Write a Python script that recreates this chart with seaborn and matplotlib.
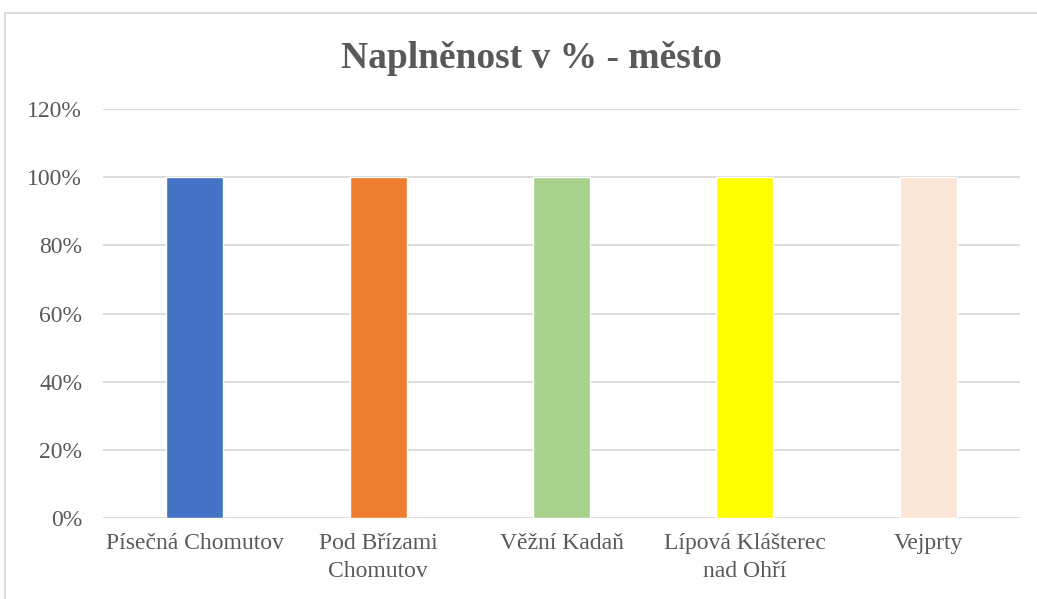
import matplotlib
matplotlib.use('Agg')
import pandas as pd
import matplotlib.pyplot as plt
import seaborn as sns
from matplotlib.patches import Rectangle
from matplotlib.ticker import PercentFormatter

# Data
mista = ['Písečná Chomutov', 'Pod Břízami\nChomutov', 'Věžní Kadaň',
         'Lípová Klášterec\nnad Ohří', 'Vejprty']
naplnenost = [100, 100, 100, 100, 100]
barvy = ['#4472C4', '#ED7D31', '#A9D18E', '#FFFF00', '#FBE5D6']

df = pd.DataFrame({'Místo': mista, 'Naplněnost': naplnenost})

sns.set_style('white')
plt.rcParams['font.family'] = ['Liberation Serif', 'DejaVu Serif']

fig = plt.figure(figsize=(10.37, 5.99), dpi=100)
ax = fig.add_axes([0.0993, 0.1352, 0.8843, 0.6828])

sns.barplot(data=df, x='Místo', y='Naplněnost', hue='Místo', palette=barvy,
            width=0.31, legend=False, ax=ax, saturation=1)

ax.set_ylim(0, 120)
ax.set_xlim(-0.5, 4.5)
ax.set_yticks(range(0, 121, 20))
ax.yaxis.set_major_formatter(PercentFormatter(decimals=0))
ax.grid(axis='y', color='#D9D9D9', linewidth=1.3)
ax.set_axisbelow(True)
for s in ax.spines.values():
    s.set_visible(False)
ax.set_xlabel('')
ax.set_ylabel('')
ax.tick_params(axis='both', length=0, colors='#595959', labelsize=17)
ax.tick_params(axis='y', pad=15)
ax.tick_params(axis='x', pad=11)
for t in ax.get_xticklabels():
    t.set_linespacing(1.4)

fig.text(0.512, 0.903, 'Naplněnost v % - město', ha='center', va='center',
         fontsize=27, fontweight='bold', color='#595959')

# light border around chart area
fig.patches.append(Rectangle((5 / 1037, -0.1), 1.2, 1 - 13 / 599 + 0.1,
                             transform=fig.transFigure, fill=False,
                             edgecolor='#D9D9D9', linewidth=1.3))

plt.savefig('out.png', dpi=100)
